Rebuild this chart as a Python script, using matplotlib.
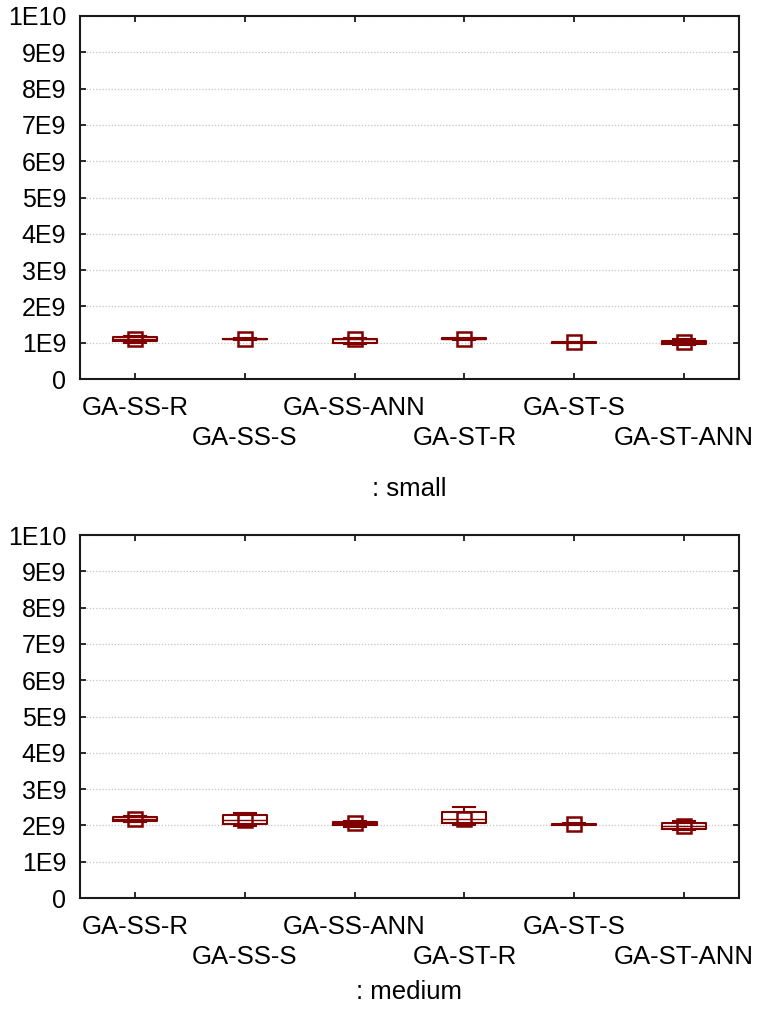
import matplotlib
matplotlib.use("Agg")
import matplotlib.pyplot as plt
import numpy as np

# Categories and box statistics (values in units of 1E9)
categories = ['GA-SS-R', 'GA-SS-S', 'GA-SS-ANN', 'GA-ST-R', 'GA-ST-S', 'GA-ST-ANN']

small_mid = [1.11, 1.10, 1.09, 1.11, 1.01, 1.03]
small_q1 = [1.05, 1.09, 1.00, 1.10, 1.005, 0.96]
small_q3 = [1.15, 1.10, 1.10, 1.12, 1.015, 1.06]
small_lo = [1.00, 1.07, 0.97, 1.08, 0.99, 0.93]
small_hi = [1.19, 1.12, 1.14, 1.14, 1.03, 1.10]

medium_mid = [2.18, 2.16, 2.07, 2.19, 2.035, 1.99]
medium_q1 = [2.12, 2.04, 2.00, 2.06, 2.025, 1.91]
medium_q3 = [2.22, 2.30, 2.10, 2.38, 2.045, 2.06]
medium_lo = [2.10, 1.99, 1.97, 2.02, 2.01, 1.88]
medium_hi = [2.25, 2.34, 2.13, 2.52, 2.06, 2.12]

y_ticks = [0, 1, 2, 3, 4, 5, 6, 7, 8, 9, 10]
y_labels = ['0', '1E9', '2E9', '3E9', '4E9', '5E9', '6E9', '7E9', '8E9', '9E9', '1E10']

panel_titles = [': small', ': medium']

plt.rcParams['font.family'] = ['Liberation Sans', 'DejaVu Sans']

RED = '#800000'


def make_stats(mid, q1, q3, lo, hi):
    stats = []
    for m, a, b, l, h in zip(mid, q1, q3, lo, hi):
        stats.append({
            'med': m * 1e9, 'mean': m * 1e9,
            'q1': a * 1e9, 'q3': b * 1e9,
            'whislo': l * 1e9, 'whishi': h * 1e9,
            'fliers': [],
        })
    return stats


fig = plt.figure(figsize=(7.59, 10.17), dpi=100)
ax1 = fig.add_axes([0.1054, 0.6273, 0.8682, 0.3570])
ax2 = fig.add_axes([0.1054, 0.1170, 0.8682, 0.3569])

panels = [
    (ax1, make_stats(small_mid, small_q1, small_q3, small_lo, small_hi), 19.5),
    (ax2, make_stats(medium_mid, medium_q1, medium_q3, medium_lo, medium_hi), 8),
]

positions = np.arange(len(categories)) + 0.5

for (ax, stats, tpad), title in zip(panels, panel_titles):
    ax.bxp(
        stats,
        positions=positions,
        widths=0.4,
        capwidths=0.2,
        showmeans=True,
        showfliers=False,
        boxprops=dict(color=RED, linewidth=1.5),
        whiskerprops=dict(color=RED, linewidth=1.5),
        capprops=dict(color=RED, linewidth=1.5),
        medianprops=dict(color=RED, linewidth=1.0),
        meanprops=dict(marker='s', markersize=10, markerfacecolor='none',
                       markeredgecolor=RED, markeredgewidth=1.8),
    )
    ax.set_xlim(0, len(categories))
    ax.set_ylim(0, 1e10)
    ax.set_yticks([v * 1e9 for v in y_ticks])
    ax.set_yticklabels(y_labels, fontsize=18)
    ax.set_xticks(positions)
    ax.set_xticklabels(categories, fontsize=18.5)

    ax.yaxis.grid(True, linestyle=(0, (1, 1.5)), color='#c4c4c4', linewidth=0.9)
    ax.set_axisbelow(True)
    for s in ax.spines.values():
        s.set_linewidth(1.5)
        s.set_color('#1a1a1a')
    ax.tick_params(direction='in', top=True, right=True, length=4, width=1.3,
                   color='#1a1a1a')
    ax.tick_params(axis='y', pad=10)
    ax.tick_params(axis='x', pad=12)

    # staggered category labels
    for i, tick in enumerate(ax.xaxis.get_major_ticks()):
        if i % 2 == 1:
            tick.set_pad(34)

    ax.set_xlabel(title, fontsize=18.5, labelpad=tpad)

fig.savefig('out.png', dpi=100)
